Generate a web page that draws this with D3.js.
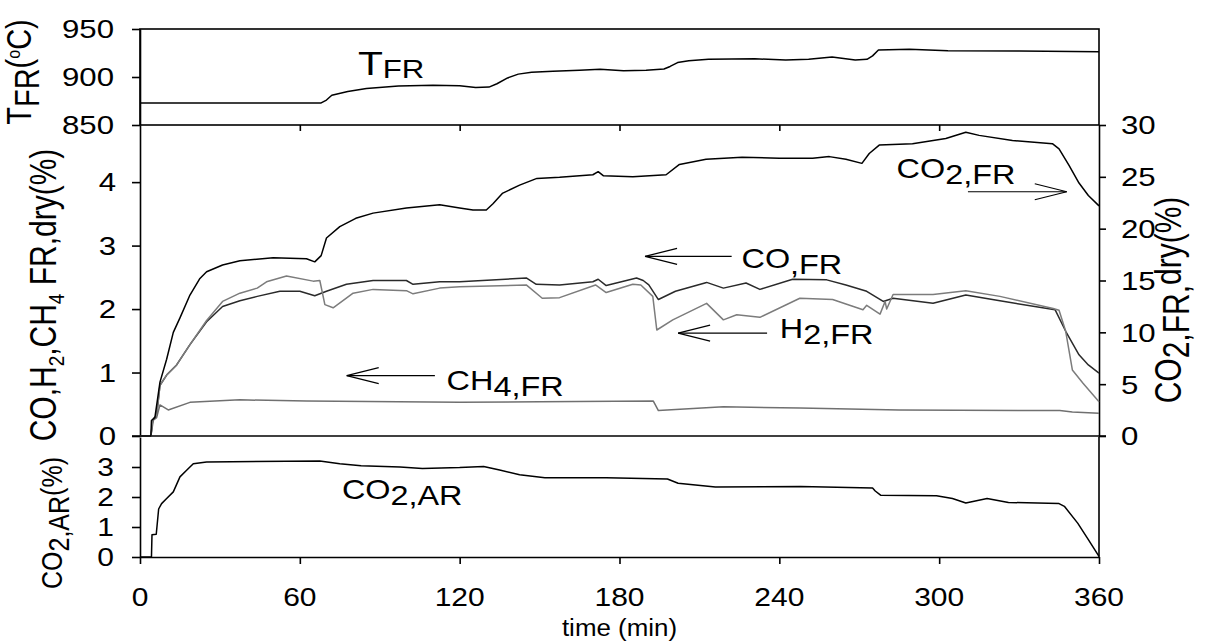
<!DOCTYPE html>
<html>
<head>
<meta charset="utf-8">
<script src="https://cdn.jsdelivr.net/npm/d3@7"></script>
<style>
  body { margin: 0; background: #fff; }
  text { font-family: Arial, "Liberation Sans", sans-serif; fill: #000; }
</style>
</head>
<body>
<div id="vis"></div>
<script>
// ---- data (time in min) ----
const xTicks = [0, 60, 120, 180, 240, 300, 360];
const tTicks = [850, 900, 950];
const leftTicks = [0, 1, 2, 3, 4];
const rightTicks = [0, 5, 10, 15, 20, 25, 30];
const arTicks = [0, 1, 2, 3];

// reactor temperature (°C)
const tFR = [[0,873],[68,873],[70,876],[72,881],[78,885],[85,888],[97,890.6],[110,891.5],[120,891],
  [126,889],[131,889.5],[134,893],[138,899],[142,903],[147,905],[155,906],[165,907],[172.7,908],
  [181.5,906.6],[190,907],[196.7,908.3],[199,911],[201.8,915],[206,917],[213.4,918.4],[230.8,919],
  [242.4,917.7],[251,918.4],[259.8,920.8],[268.5,917.7],[272.9,918.4],[275,922],[277.2,928.1],
  [288.8,928.8],[303.3,927.4],[330,927.2],[360,926.4]];

// CO2 FR dry (%) - right axis
const co2FR = [[0,0],[4.1,0],[4.3,1.5],[5.6,1.8],[7.5,5.2],[10,7.4],[12.5,10],[15,11.4],[18.75,13.6],
  [22.5,15.2],[25,15.85],[31,16.5],[37.5,16.9],[50,17.2],[62.5,17.1],[65.6,16.8],[68,17.4],[70,19.1],
  [75,20.2],[81,21.0],[87.5,21.5],[100,22.0],[112.5,22.3],[120,22.0],[125,21.8],[130,21.8],[132.5,22.4],
  [136,23.4],[142.5,24.2],[149,24.85],[157.5,24.95],[170,25.2],[172,25.5],[174,25.1],[185,25.0],
  [197.5,25.2],[202.5,26.2],[212.5,26.7],[226,26.9],[240,26.8],[252.5,26.8],[258.75,26.95],[265,26.7],
  [271,26.3],[273.75,27.25],[277.5,28.06],[290,28.2],[302.5,28.7],[310,29.3],[315,29.0],[327.5,28.5],
  [342.5,28.2],[345,27.7],[348.75,26.1],[352.5,24.4],[356,23.2],[360,22.2]];

// CO FR dry (%)
const coFR = [[0,0],[4.1,0],[4.75,0.25],[6.25,0.33],[7.5,0.8],[10,0.96],[13.75,1.12],[18.75,1.44],
  [25,1.8],[31,2.04],[37.5,2.13],[44,2.2],[52.5,2.28],[60,2.28],[65.6,2.21],[70,2.28],[77.5,2.39],
  [87.5,2.45],[100,2.45],[102.5,2.39],[112.5,2.43],[120,2.43],[145,2.49],[148.75,2.39],[157.5,2.38],
  [170,2.43],[172,2.47],[175,2.37],[186.4,2.49],[188.9,2.45],[191,2.38],[194.6,2.15],[201,2.28],
  [212.7,2.42],[219,2.33],[227.5,2.41],[232.7,2.31],[245,2.47],[257.8,2.46],[265,2.38],[272.8,2.28],
  [279,2.12],[282.7,2.17],[297.7,2.09],[310,2.22],[322.8,2.13],[343.5,1.99],[347.5,1.65],[352.5,1.28],
  [356,1.12],[360,0.99]];

// H2 FR dry (%)
const h2FR = [[0,0],[4.1,0],[4.75,0.25],[6.25,0.33],[7.5,0.8],[10,0.96],[13.75,1.12],[18.75,1.44],
  [25,1.82],[31,2.12],[37.5,2.25],[44,2.33],[47.5,2.43],[55,2.52],[65,2.44],[67.5,2.45],[69.4,2.07],
  [72.5,2.02],[80,2.25],[87.5,2.31],[100,2.29],[102.5,2.24],[112.5,2.33],[120,2.35],[145,2.38],
  [151,2.17],[157.5,2.18],[171,2.38],[175,2.26],[185,2.39],[188,2.38],[192.5,2.2],[194,1.67],[200,1.83],
  [212.7,2.09],[219,1.83],[224,1.91],[232.7,1.87],[247.7,2.17],[260,2.15],[271.4,1.99],[272.8,2.06],
  [277.8,1.92],[279.7,2.12],[280.3,2.0],[282.7,2.23],[297.7,2.23],[310,2.29],[322.8,2.2],[342.8,2.01],
  [345,1.98],[347.5,1.65],[350,1.04],[354,0.83],[360,0.54]];

// CH4 FR dry (%)
const ch4FR = [[0,0],[4.1,0],[5,0.25],[6.25,0.29],[7.5,0.49],[10.6,0.41],[18.75,0.53],[37.5,0.57],
  [62.5,0.55],[120,0.53],[150,0.54],[192.7,0.55],[194.6,0.4],[219,0.46],[247.7,0.44],[285,0.41],
  [345.3,0.4],[350,0.38],[360,0.36]];

// CO2 AR (%)
const co2AR = [[0,0],[4.3,0],[4.5,0.74],[6.1,0.76],[7,1.6],[8.1,1.78],[10,1.95],[12.5,2.17],[15,2.67],
  [17.5,2.89],[20,3.11],[25,3.17],[67.5,3.2],[75,3.11],[83,3.04],[97.6,3.0],[106,2.95],[120,2.98],
  [129,3.02],[135,2.9],[142.5,2.74],[152,2.64],[175,2.64],[198,2.6],[202,2.46],[216,2.33],[248,2.35],
  [275,2.3],[276,2.2],[278,2.06],[299,2.04],[305,1.95],[310,1.8],[318,1.95],[326,1.82],[345,1.78],
  [347,1.69],[352,1.13],[356,0.58],[360,0.02]];

// ---- drawing ----
const SX = 1.2;   // horizontal stretch of the original figure's lettering

const svg = d3.select("#vis")
    .append("svg")
    .attr("width", 1207)
    .attr("height", 643);

const x = d3.scaleLinear().domain([0, 360]).range([140, 1099]);
const yT = d3.scaleLinear().domain([850, 950]).range([125, 29]);
const yL = d3.scaleLinear().domain([0, 4.9]).range([436, 125]);
const yR = d3.scaleLinear().domain([0, 30]).range([436, 125]);
const yA = d3.scaleLinear().domain([0, 4]).range([557, 437]);

function styleAxis(g) {
    g.selectAll("path, line").attr("stroke", "#000").attr("stroke-width", 1.6);
}

// top panel box
svg.append("rect")
    .attr("x", x(0)).attr("y", yT(950))
    .attr("width", x(360) - x(0)).attr("height", yT(850) - yT(950))
    .attr("fill", "none").attr("stroke", "#000").attr("stroke-width", 1.6);

svg.append("g").attr("transform", `translate(${x(0)},0)`)
    .call(d3.axisLeft(yT).tickValues(tTicks).tickSize(8).tickSizeOuter(0).tickFormat(""))
    .call(styleAxis);

// ticks under the top panel, pointing into the middle one
svg.append("g").attr("transform", `translate(0,${yT(850)})`)
    .call(d3.axisBottom(x).tickValues(xTicks.slice(1, -1)).tickSize(6).tickFormat(""))
    .call(g => g.select(".domain").remove())
    .call(styleAxis);

// middle panel
svg.append("g").attr("transform", `translate(${x(0)},0)`)
    .call(d3.axisLeft(yL).tickValues(leftTicks).tickSize(8).tickSizeOuter(0).tickFormat(""))
    .call(styleAxis);
svg.append("g").attr("transform", `translate(${x(360)},0)`)
    .call(d3.axisRight(yR).tickValues(rightTicks).tickSize(7).tickSizeOuter(0).tickFormat(""))
    .call(styleAxis);
svg.append("line")
    .attr("x1", x(0) - 8).attr("x2", x(360) + 7)
    .attr("y1", yL(0)).attr("y2", yL(0))
    .attr("stroke", "#000").attr("stroke-width", 1.6);

// bottom panel
svg.append("g").attr("transform", `translate(${x(0)},0)`)
    .call(d3.axisLeft(yA).tickValues(arTicks).tickSize(8).tickSizeOuter(0).tickFormat(""))
    .call(styleAxis);
svg.append("line")
    .attr("x1", x(360)).attr("x2", x(360))
    .attr("y1", yA(4)).attr("y2", yA(0))
    .attr("stroke", "#000").attr("stroke-width", 1.6);
svg.append("g").attr("transform", `translate(0,${yA(0)})`)
    .call(d3.axisBottom(x).tickValues(xTicks).tickSize(7).tickSizeOuter(0).tickFormat(""))
    .call(styleAxis);

// tick labels (stretched like the original)
function tickText(X, Y, str, anchor, size) {
    svg.append("text")
        .attr("transform", `translate(${X},${Y}) scale(${SX},1)`)
        .attr("text-anchor", anchor)
        .attr("dy", "0.36em")
        .style("font-size", size + "px")
        .text(str);
}
tTicks.forEach(v => tickText(x(0) - 26, yT(v), v, "end", 26));
leftTicks.forEach(v => tickText(x(0) - 24, yL(v), v, "end", 26));
rightTicks.forEach(v => tickText(x(360) + 22, yR(v), v, "start", 26));
arTicks.forEach(v => tickText(x(0) - 26, yA(v), v, "end", 25));
xTicks.forEach(v => tickText(x(v), yA(0) + 40, v, "middle", 25));

svg.append("text")
    .attr("transform", `translate(${x(180)},${yA(0) + 79}) scale(1.08,1)`)
    .attr("text-anchor", "middle")
    .style("font-size", "24px")
    .text("time (min)");

// lines
const lineT = d3.line().x(d => x(d[0])).y(d => yT(d[1]));
const lineL = d3.line().x(d => x(d[0])).y(d => yL(d[1]));
const lineR = d3.line().x(d => x(d[0])).y(d => yR(d[1]));
const lineA = d3.line().x(d => x(d[0])).y(d => yA(d[1]));

function drawLine(data, gen, color, w) {
    svg.append("path").datum(data)
        .attr("d", gen)
        .attr("fill", "none")
        .attr("stroke", color)
        .attr("stroke-width", w)
        .attr("stroke-linejoin", "round");
}
drawLine(tFR, lineT, "#000", 1.5);
drawLine(ch4FR, lineL, "#707070", 1.5);
drawLine(coFR, lineL, "#2a2a2a", 1.5);
drawLine(h2FR, lineL, "#7c7c7c", 1.5);
drawLine(co2FR, lineR, "#000", 1.5);
drawLine(co2AR, lineA, "#000", 1.5);

// arrows (tail/head in data coords)
function arrow(t0, t1, y, dir) {
    const y0 = y, x0 = x(t0), x1 = x(t1);
    svg.append("line").attr("x1", x0).attr("x2", x1).attr("y1", y0).attr("y2", y0)
        .attr("stroke", "#000").attr("stroke-width", 1.2);
    const hx = dir < 0 ? x0 : x1;
    const bx = hx - dir * 32;
    svg.append("path")
        .attr("d", `M${bx},${y0 - 8}L${hx},${y0}L${bx},${y0 + 8}`)
        .attr("fill", "none").attr("stroke", "#000").attr("stroke-width", 1.2);
}
arrow(189.6, 222.1, yL(2.83), -1);
arrow(202, 235.4, yL(1.62), -1);
arrow(77.6, 110.7, yL(0.95), -1);
arrow(310.8, 347.9, yR(23.56), 1);

// series labels: main part + lowered part
function seriesLabel(X, Y, main, sub, size, subSize, drop) {
    const t = svg.append("text")
        .attr("transform", `translate(${X},${Y}) scale(${SX},1)`)
        .style("font-size", size + "px");
    t.append("tspan").text(main);
    t.append("tspan").attr("dy", drop).style("font-size", subSize + "px").text(sub);
}
seriesLabel(x(225.8), yL(2.65), "CO", ",FR", 27, 27, 6);
seriesLabel(x(240.2), yL(1.55), "H", "2,FR", 27, 27, 6);
seriesLabel(x(115.1), yL(0.73), "CH", "4,FR", 27, 27, 6);
seriesLabel(x(284), yR(24.88), "CO", "2,FR", 27, 27, 6);
seriesLabel(x(75.8), yA(1.93), "CO", "2,AR", 27, 27, 6);
seriesLabel(x(81.8), yT(902), "T", "FR", 34, 26, 3);

// rotated axis titles
function rotTitle(X, Y, parts, size) {
    const t = svg.append("text")
        .attr("transform", `translate(${X},${Y}) scale(${SX},1) rotate(-90)`)
        .attr("text-anchor", "middle")
        .style("font-size", size + "px");
    parts.forEach(p => {
        const s = t.append("tspan").attr("dy", p[1]).text(p[0]);
        if (p[2]) s.style("font-size", p[2] + "px");
    });
}
rotTitle(31, 72, [["T", 0], ["FR", 7], ["(", -7], ["o", -9, 16], ["C)", 9]], 29);
rotTitle(56, 295, [["CO,H", 0], ["2", 7, 19], [",CH", -7], ["4", 7, 19], [" FR,dry(%)", -7]], 30);
rotTitle(1181, 300, [["CO", 0], ["2,FR,", 7], ["dry(%)", -7]], 30);
rotTitle(62, 523, [["CO", 0], ["2,AR", 6], ["(%)", -6]], 25);
</script>
</body>
</html>
